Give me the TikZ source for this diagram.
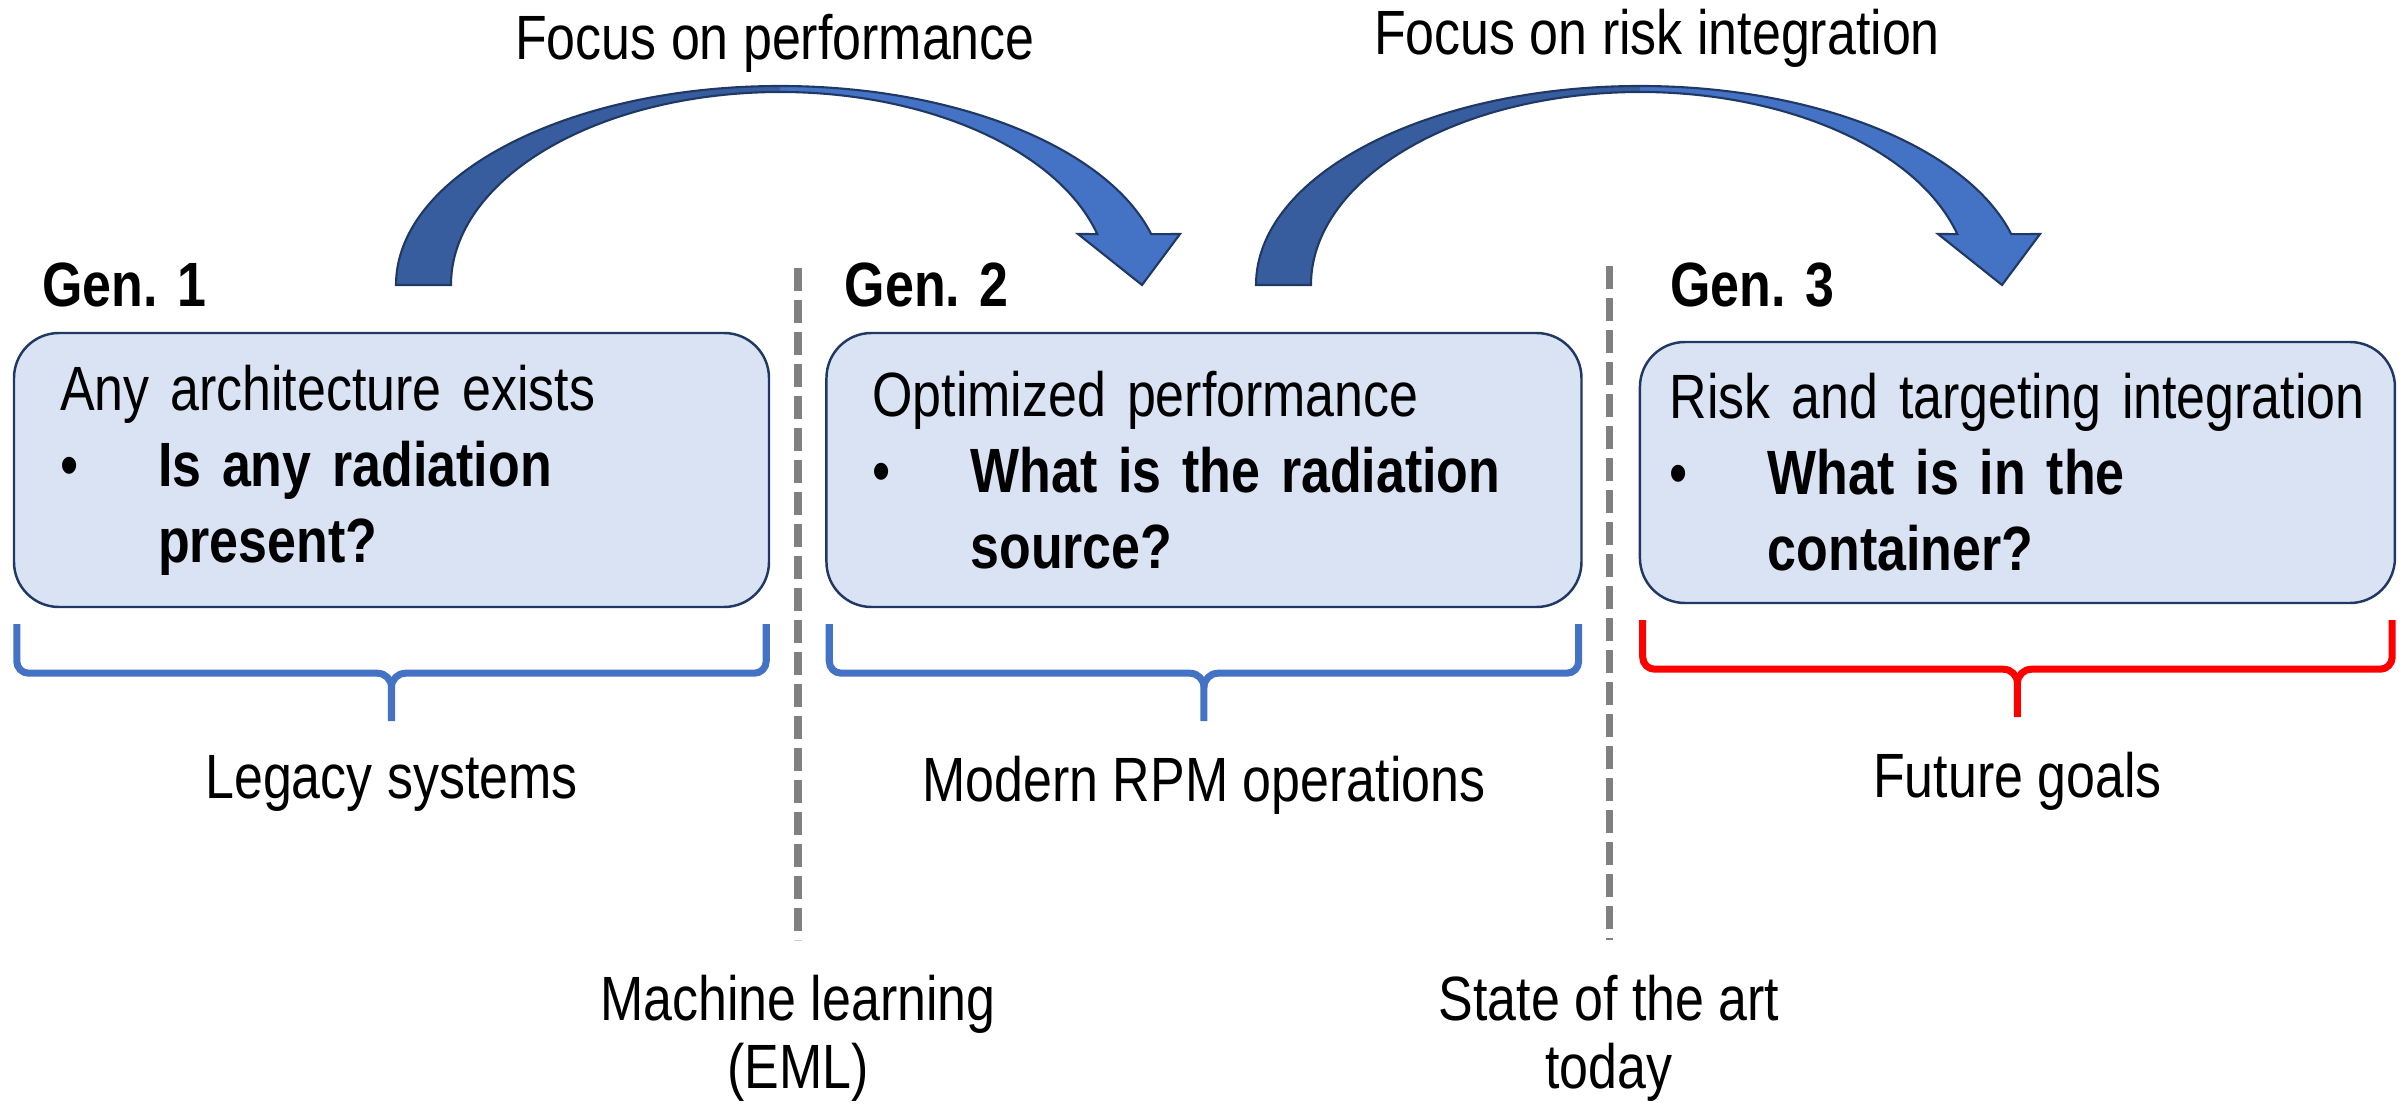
\documentclass[tikz,border=0pt]{standalone}
\usepackage{fontspec}
\setmainfont{Liberation Sans}[FakeStretch=0.83]
\usetikzlibrary{positioning, calc}

\definecolor{boxfill}{HTML}{DAE3F3}
\definecolor{boxline}{HTML}{1F3864}
\definecolor{genblue}{HTML}{4472C4}
\definecolor{gendark}{HTML}{375D9E}
\definecolor{divgray}{HTML}{808080}

\newcommand{\boxfont}{\fontsize{17.8}{21.6}\selectfont}
\newcommand{\notefont}{\fontsize{17.8}{19.4}\selectfont}

% curly bracket under a box; #3 names its tip
\newcommand{\genbrace}[3]{%
  \coordinate (#3) at ([yshift=-1.13cm]#1.south);
  \draw[bracket, draw=#2] ([shift={(0.04,-0.16)}]#1.south west) -- ++(0,-0.37)
    to[out=-90,in=180] ++(0.12,-0.12) -- ([shift={(-0.14,-0.65)}]#1.south)
    to[out=0,in=90] ++(0.14,-0.14) -- (#3);
  \draw[bracket, draw=#2] ([shift={(-0.04,-0.16)}]#1.south east) -- ++(0,-0.37)
    to[out=-90,in=0] ++(-0.12,-0.12) -- ([shift={(0.14,-0.65)}]#1.south)
    to[out=180,in=90] ++(-0.14,-0.14);
}

% curved block arrow, #1 is the centre of its arc
\newcommand{\focusarrow}[1]{%
  \fill[genblue] ($(#1)+(-3.84,0)$) arc[start angle=180, end angle=14.8, x radius=3.84cm, y radius=1.99cm]
    -- ($(#1)+(4.00,0.51)$) -- ($(#1)+(3.62,0)$) -- ($(#1)+(2.98,0.51)$)
    -- ($(#1)+(3.173,0.509)$) arc[start angle=15.3, end angle=180, x radius=3.29cm, y radius=1.93cm] -- cycle;
  \fill[gendark] ($(#1)+(-3.84,0)$) arc[start angle=180, end angle=90, x radius=3.84cm, y radius=1.99cm]
    -- ($(#1)+(0,1.93)$) arc[start angle=90, end angle=180, x radius=3.29cm, y radius=1.93cm] -- cycle;
  \draw[arrowline] ($(#1)+(-3.84,0)$) arc[start angle=180, end angle=14.8, x radius=3.84cm, y radius=1.99cm]
    -- ($(#1)+(4.00,0.51)$) -- ($(#1)+(3.62,0)$) -- ($(#1)+(2.98,0.51)$)
    -- ($(#1)+(3.173,0.509)$) arc[start angle=15.3, end angle=180, x radius=3.29cm, y radius=1.93cm] -- cycle;
}

\begin{document}
\begin{tikzpicture}[
    genbox/.style={rectangle, rounded corners=0.45cm, draw=boxline, line width=0.7pt, fill=boxfill,
      minimum width=7.55cm, minimum height=2.74cm, text width=6.63cm, inner xsep=0.46cm, inner ysep=0pt,
      align=left, font=\boxfont},
    genlabel/.style={inner sep=0pt, font=\boxfont\bfseries},
    plainlabel/.style={inner sep=0pt, font=\boxfont},
    notelabel/.style={inner sep=0pt, align=center, font=\notefont},
    bracket/.style={line width=2pt, line cap=butt, line join=round},
    divider/.style={draw=divgray, line width=2pt, dash pattern=on 0.23cm off 0.09cm},
    arrowline/.style={draw=boxline, line width=0.6pt, line join=miter}
    ]
    \useasboundingbox (0,0) rectangle (24.05,-11.06);

    % Generation boxes
    \node (box1) [genbox] at (3.915,-4.70) {Any architecture exists\\
      \makebox[0.98cm][l]{•}\textbf{Is any radiation}\\
      \hspace*{0.98cm}\textbf{present?}};
    \node (box2) [genbox, right=0.55cm of box1] {Optimized performance\\
      \makebox[0.98cm][l]{•}\textbf{What is the radiation}\\
      \hspace*{0.98cm}\textbf{source?}};
    \node (box3) [genbox, right=0.56cm of box2, yshift=-0.025cm, minimum height=2.61cm,
      inner xsep=0.30cm, text width=6.95cm] {Risk and targeting integration\\
      \makebox[0.98cm][l]{•}\textbf{What is in the}\\
      \hspace*{0.98cm}\textbf{container?}};

    % Headings
    \node (gen1) [genlabel, anchor=base west] at ([shift={(0.29,0.25)}]box1.north west) {Gen. 1};
    \node (gen2) [genlabel, anchor=base west] at ([shift={(0.19,0.25)}]box2.north west) {Gen. 2};
    \node (gen3) [genlabel, anchor=base west] at ([shift={(0.31,0.34)}]box3.north west) {Gen. 3};

    % Arrows between generations
    \coordinate (arc1) at (7.80,-2.85);
    \coordinate (arc2) at (16.40,-2.85);
    \focusarrow{arc1}
    \focusarrow{arc2}
    \node (focus1) [plainlabel, anchor=base] at (7.75,-0.60) {Focus on performance};
    \node (focus2) [plainlabel, anchor=base] at (16.57,-0.55) {Focus on risk integration};

    % Dividers
    \coordinate (div1top) at (7.98,-2.68);
    \coordinate (div1bot) at (7.98,-9.40);
    \coordinate (div2top) at (16.09,-2.66);
    \coordinate (div2bot) at (16.09,-9.40);
    \draw[divider] (div1top) -- (div1bot);
    \draw[divider] (div2top) -- (div2bot);
    \node (ml) [notelabel, below=0.34cm of div1bot] {Machine learning\\(EML)};
    \node (sota) [notelabel, below=0.34cm of div2bot] {State of the art\\today};

    % Brackets
    \genbrace{box1}{genblue}{tip1}
    \genbrace{box2}{genblue}{tip2}
    \genbrace{box3}{red}{tip3}
    \node (legacy) [plainlabel, below=0.34cm of tip1] {Legacy systems};
    \node (modern) [plainlabel, below=0.34cm of tip2] {Modern RPM operations};
    \node (future) [plainlabel, below=0.34cm of tip3] {Future goals};

\end{tikzpicture}
\end{document}
